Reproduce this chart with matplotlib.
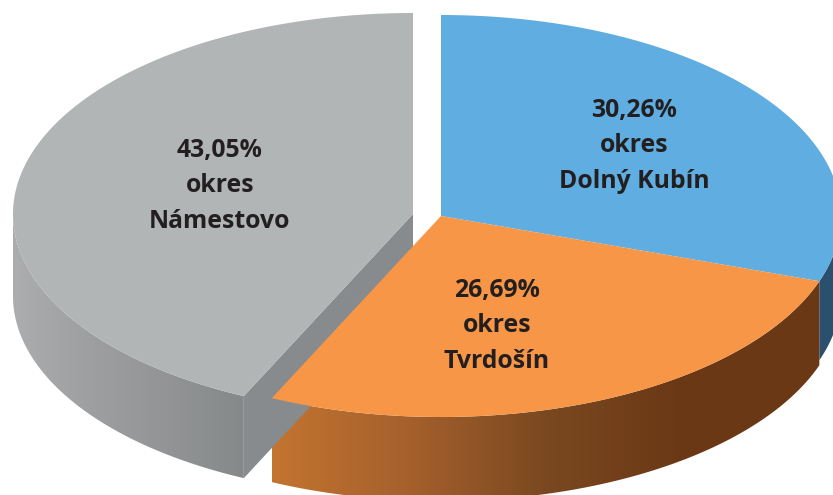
import numpy as np
from matplotlib import pyplot as plt
from matplotlib.colors import LinearSegmentedColormap
from matplotlib.patches import Polygon

plt.rcParams['font.family'] = ['Open Sans', 'DejaVu Sans']

districts = ["Dolný Kubín", "Tvrdošín", "Námestovo"]
shares = [30.26, 26.69, 43.05]

RX, RY = 400, 201
depths = [79, 84, 82]
centers = [(441, 216), (441, 216), (413, 214)]
top_colors = ["#5FADE1", "#F79646", "#B1B5B6"]
wall_colors = [
    ["#2B506E", "#2B506E"],
    ["#C37430", "#A5602C", "#7A4820", "#6B3815", "#6B3815"],
    ["#ABADAE", "#9D9FA0", "#929495", "#86898A"],
]
label_pos = [(634, 110), (497, 290), (220, 150)]
LINE_GAP = 36


def arc(center, start, end, drop=0, n=200):
    t = np.radians(np.linspace(start, end, n))
    x = center[0] + RX * np.sin(t)
    y = center[1] - RY * np.cos(t) + drop
    return np.column_stack([x, y])


def draw_wall(ax, center, start, end, depth, colors):
    # only the front of the ellipse shows a wall
    start, end = max(start, 90), min(end, 270)
    pts = np.vstack([arc(center, start, end), arc(center, start, end, depth)[::-1]])
    poly = Polygon(pts, closed=True, transform=ax.transData, fc="none", ec="none")
    ax.add_patch(poly)
    cmap = LinearSegmentedColormap.from_list("wall", colors)
    grad = np.linspace(0, 1, 256).reshape(1, -1)
    im = ax.imshow(grad, cmap=cmap, aspect="auto", interpolation="bilinear",
                   extent=(pts[:, 0].min(), pts[:, 0].max(), pts[:, 1].max(), pts[:, 1].min()))
    im.set_clip_path(poly)


fig = plt.figure(figsize=(8.33, 4.95), dpi=100)
ax = fig.add_axes([0, 0, 1, 1])

edges = np.concatenate([[0], np.cumsum(shares)]) * 3.6

# back to front: grey, blue, orange
for i in [2, 0, 1]:
    c = centers[i]
    start, end = edges[i], edges[i + 1]
    if i == 2:
        # cut face of the pulled out slice
        p = arc(c, start, start, n=1)[0]
        ax.add_patch(Polygon([c, p, (p[0], p[1] + depths[i]), (c[0], c[1] + depths[i])],
                             closed=True, fc="#878B8D", ec="none"))
    draw_wall(ax, c, start, end, depths[i], wall_colors[i])
    top = np.vstack([[c], arc(c, start, end)])
    ax.add_patch(Polygon(top, closed=True, fc=top_colors[i], ec="none"))

for name, share, (x, y) in zip(districts, shares, label_pos):
    lines = [f"{share:.2f}%".replace(".", ","), "okres", name]
    for k, line in enumerate(lines):
        ax.text(x, y + k * LINE_GAP, line, ha="center", va="center",
                fontsize=17.8, fontweight="bold", color="#231F20")

ax.set_xlim(0, 833)
ax.set_ylim(495, 0)
ax.axis("off")
fig.savefig("out.png", dpi=100, facecolor="white")
